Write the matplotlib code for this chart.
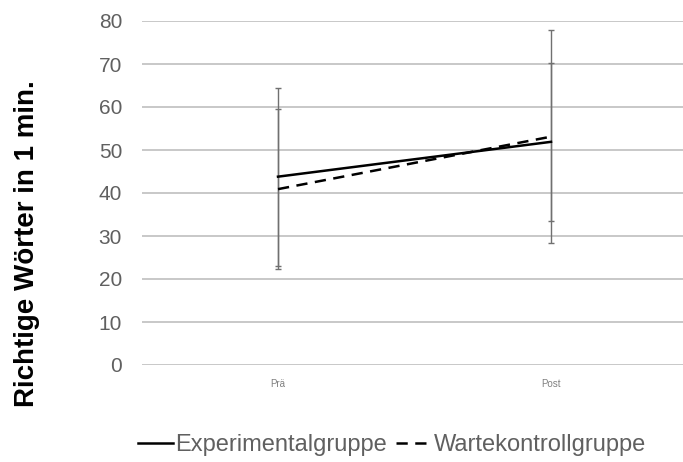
import matplotlib
matplotlib.use("Agg")
import matplotlib.pyplot as plt

categories = ["Prä", "Post"]
exp_mean = [43.8, 51.9]
exp_err = [20.7, 18.4]
ctrl_mean = [40.9, 53.1]
ctrl_err = [18.6, 24.7]
yticks = [0, 10, 20, 30, 40, 50, 60, 70, 80]

fig = plt.figure(figsize=(6.83, 4.62), dpi=100)
ax = fig.add_axes([141.5/683, 97/462, 546/683, 344/462])
x = list(range(len(categories)))

ax.errorbar(x, exp_mean, yerr=exp_err, fmt='none', ecolor='#707070', elinewidth=1.0, capsize=2.5, capthick=1.0, zorder=3)
ax.errorbar(x, ctrl_mean, yerr=ctrl_err, fmt='none', ecolor='#707070', elinewidth=1.0, capsize=2.5, capthick=1.0, zorder=3)
ax.plot(x, exp_mean, color='black', lw=1.8, label='Experimentalgruppe', zorder=4)
ax.plot(x, ctrl_mean, color='black', lw=1.8, ls=(0, (4.5, 3)), label='Wartekontrollgruppe', zorder=4)

ax.set_xlim(-0.5, 1.5)
ax.set_ylim(0, 80)
ax.set_yticks(yticks)
ax.set_xticks(x)
ax.set_xticklabels(categories, fontsize=7, color='#808080', family='Liberation Sans')
ax.tick_params(axis='y', length=0, pad=14, labelsize=15, labelcolor='#606060')
ax.tick_params(axis='x', length=0, pad=10)
for lab in ax.get_yticklabels():
    lab.set_family('Liberation Sans')
ax.grid(axis='y', color='#bfbfbf', lw=1.2)
ax.set_axisbelow(True)
for s in ax.spines.values():
    s.set_visible(False)

fig.text(27/683, 1 - 243.5/462, "Richtige Wörter in 1 min.", rotation=90, ha='center', va='center',
         fontsize=20, fontweight='bold', family='Liberation Sans', color='black')

leg = fig.legend(loc='center', bbox_to_anchor=(392/683, 1 - 445/462), ncol=2, frameon=False,
                 prop={'family': 'Liberation Sans', 'size': 17}, handlelength=1.5, handletextpad=0.1,
                 columnspacing=0.4)
for t in leg.get_texts():
    t.set_color('#606060')

fig.savefig("out.png", dpi=100)
